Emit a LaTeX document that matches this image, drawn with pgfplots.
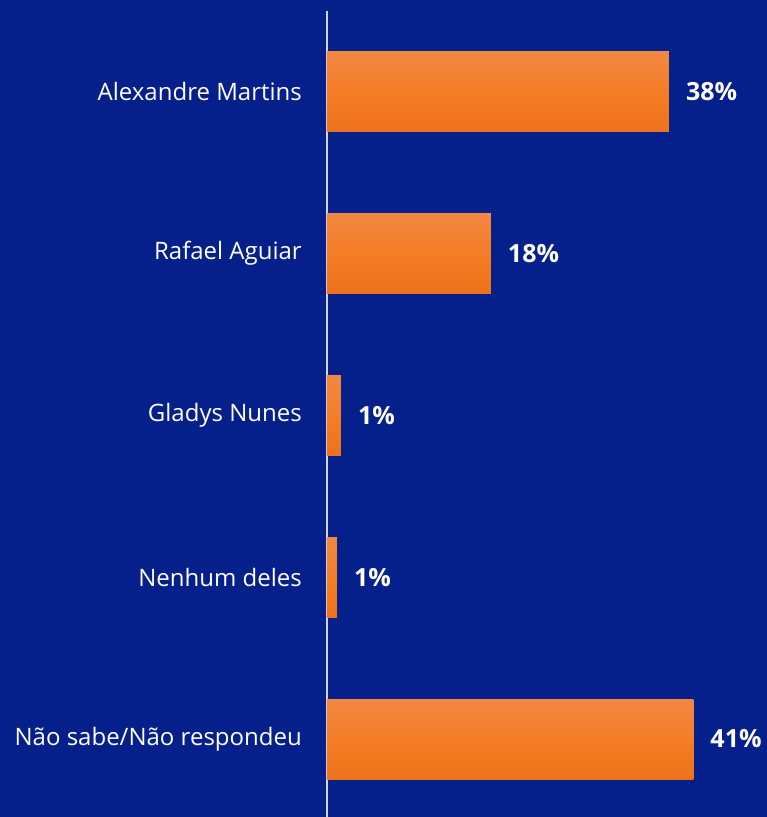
\documentclass[border=0pt]{standalone}
\usepackage{fontspec}
\setmainfont{Open Sans}
\usepackage{pgfplots}
\pgfplotsset{compat=1.18}
\definecolor{bg}{RGB}{5,32,138}
\definecolor{lineclr}{RGB}{205,212,235}
\definecolor{btop}{RGB}{242,146,92}
\definecolor{bmid}{RGB}{244,123,34}
\definecolor{bbot}{RGB}{230,102,18}
\pgfdeclareverticalshading{barshade}{100bp}{color(0bp)=(bbot); color(45bp)=(bmid); color(100bp)=(btop)}
\begin{document}
\begin{tikzpicture}[x=1pt,y=1pt]
\fill[bg] (0,0) rectangle (767,817);
\begin{axis}[
  at={(327pt,0pt)}, anchor=south west,
  scale only axis, width=440pt, height=806pt,
  xmin=0, xmax=48.89, ymin=-0.5, ymax=4.482,
  y dir=reverse,
  xbar, bar width=80pt, bar shift=0pt,
  hide x axis,
  axis y line*=left,
  y axis line style={draw=lineclr, line width=1.6pt},
  ytick={0,1,2,3,4},
  yticklabels={Alexandre Martins, Rafael Aguiar, Gladys Nunes, Nenhum deles, Não sabe/Não respondeu},
  ytick style={draw=none},
  major tick length=0pt,
  yticklabel style={font=\fontsize{24}{28}\selectfont, text=white, anchor=east, inner sep=0pt, xshift=-25pt},
  clip=false,
  nodes near coords={\pgfplotspointmeta\%},
  point meta=explicit symbolic,
  every node near coord/.append style={font=\fontsize{25}{29}\selectfont\bfseries, text=white, anchor=west, inner sep=0pt, xshift=17pt},
  every axis plot/.append style={draw=none, shading=barshade},
]
\addplot coordinates {(38.0,0) [38]};
\addplot coordinates {(18.2,1) [18]};
\addplot coordinates {(1.55,2) [1]};
\addplot coordinates {(1.1,3) [1]};
\addplot coordinates {(40.7,4) [41]};
\end{axis}
\pgfresetboundingbox
\useasboundingbox (0,0) rectangle (767,817);
\end{tikzpicture}
\end{document}
